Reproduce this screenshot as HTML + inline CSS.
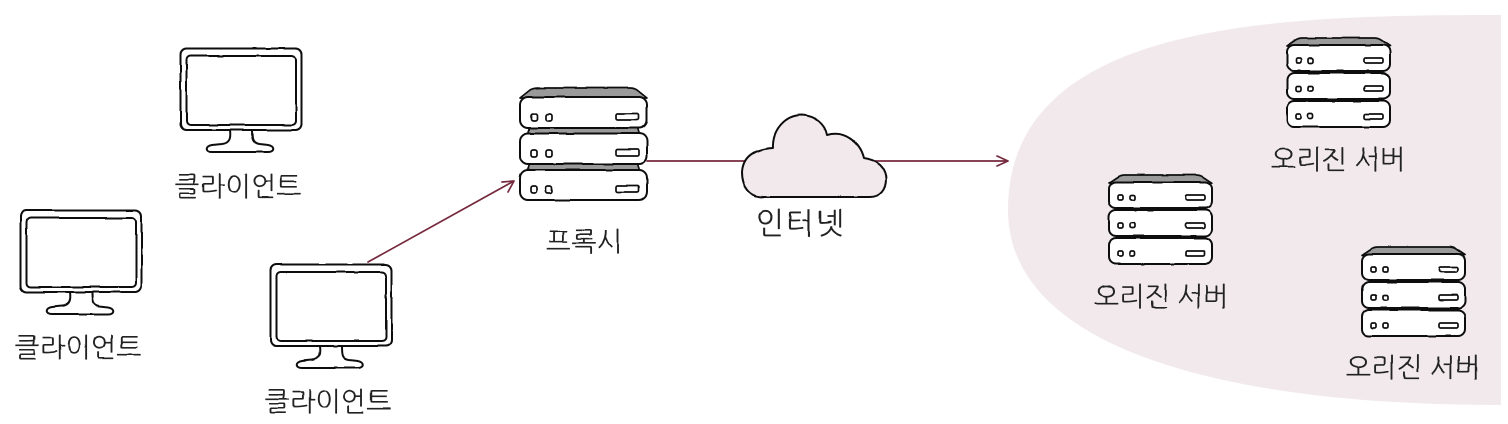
<!DOCTYPE html>
<html lang="ko">
<head>
<meta charset="utf-8">
<style>
html,body{margin:0;padding:0;background:#fff;width:1508px;height:424px;overflow:hidden}
svg{display:block}
text{font-family:"Liberation Sans","NanumGothic","Noto Sans CJK KR",sans-serif;font-size:27px;fill:#222;text-anchor:middle}
.o{fill:#fff;stroke:#111;stroke-width:2;stroke-linejoin:round;stroke-linecap:round}
.t{stroke-width:1.7}
.g{fill:#9a9a9a;stroke:#111;stroke-width:1.7;stroke-linejoin:round}
.a{fill:none;stroke:#762a3e;stroke-width:1.7;stroke-linecap:round;stroke-linejoin:round}
</style>
</head>
<body>
<svg width="1508" height="424" viewBox="0 0 1508 424" xmlns="http://www.w3.org/2000/svg">
<defs>
<filter id="w" x="-5%" y="-5%" width="110%" height="110%">
<feTurbulence type="fractalNoise" baseFrequency="0.04" numOctaves="2" seed="4"/>
<feDisplacementMap in="SourceGraphic" scale="1.8" xChannelSelector="R" yChannelSelector="G"/>
</filter>
<g id="mon">
<path class="o" d="M230 130 C231 138 230 143 222 144 L212 145 C205 146 205 152 212 152 L268 152 C275 152 275 146 268 145 L259 144 C252 143 252 138 252 130 Z"/>
<rect class="o" x="180.500" y="48.500" width="121" height="81.500" rx="6"/>
<rect class="o" x="186.500" y="56" width="109.500" height="69" rx="4"/>
</g>
<g id="row"><rect class="o t" x="531" y="114" width="6" height="7" rx="2"/><rect class="o t" x="546" y="114" width="6" height="7" rx="2"/><rect class="o t" x="616" y="113.500" width="23" height="6.500" rx="1.500"/></g>
<g id="srv">
<path class="g" d="M540 88 L630 88 Q634 88 637 90 L647 98 L520 98 L530 90 Q533 88 540 88 Z"/>
<path class="g" d="M530 126 L637 126 L640 136 L527 136 Z"/>
<path class="g" d="M530 162 L637 162 L640 172 L527 172 Z"/>
<rect class="o" x="520" y="97" width="127" height="31" rx="8"/>
<rect class="o" x="520" y="133.500" width="127" height="30.500" rx="8"/>
<rect class="o" x="520" y="170" width="127" height="30" rx="8"/>
<use href="#row"/>
<use href="#row" y="36"/>
<use href="#row" y="72"/>
</g>
<g id="r2"><rect class="o t" x="9" y="13" width="5" height="5" rx="1.500"/><rect class="o t" x="21" y="13" width="5" height="5" rx="1.500"/><rect class="o t" x="77" y="13" width="19" height="5" rx="1.500"/></g>
<g id="sm">
<path class="g" d="M16 0 L87 0 Q91 0 94 2 L103 8 L0 8 L9 2 Q12 0 16 0 Z"/>
<path class="g" d="M8 31 L95 31 L97 37 L6 37 Z"/>
<path class="g" d="M8 59 L95 59 L97 65 L6 65 Z"/>
<rect class="o" x="0" y="7" width="103" height="26" rx="7"/>
<rect class="o" x="0" y="35" width="103" height="26" rx="7"/>
<rect class="o" x="0" y="63" width="103" height="26" rx="7"/>
<use href="#r2" y="7"/>
<use href="#r2" y="35"/>
<use href="#r2" y="63"/>
</g>
</defs>

<path d="M1501 15 C1280 15 1008 20 1008 210 C1008 340 1200 405 1501 405 Z" fill="#f1e9ec"/>

<path class="a" d="M368 262 L514 181 M502 182 L514 181 L508 192"/>
<path class="a" d="M647 161 L748 161"/>
<path class="a" d="M870 161 L1008 161 M997 156 L1008 161 L997 166"/>

<g filter="url(#w)">
<use href="#mon"/>
<use href="#mon" x="-160" y="162"/>
<use href="#mon" x="90" y="216"/>

<use href="#srv"/>
<use href="#sm" x="1287" y="38"/>
<use href="#sm" x="1109" y="175"/>
<use href="#sm" x="1362" y="247"/>

<path d="M763 197 C750 197 742 187 742 172 C743 156 755 149 773 148 C772 130 785 115 802 115 C815 116 825 124 827 135 C845 130 860 142 864 158 C878 160 886 168 886 179 C886 190 880 197 870 197 Z" fill="#f1e9ec" stroke="#111" stroke-width="2" stroke-linejoin="round"/>

<text x="238" y="196">클라이언트</text>
<text x="78" y="357">클라이언트</text>
<text x="328" y="411">클라이언트</text>
<text x="584" y="251">프록시</text>
<text x="801" y="234" style="font-size:30px;letter-spacing:2px">인터넷</text>
<text x="1338" y="169">오리진 서버</text>
<text x="1161" y="306">오리진 서버</text>
<text x="1413" y="377">오리진 서버</text>
</g>
</svg>
</body>
</html>
